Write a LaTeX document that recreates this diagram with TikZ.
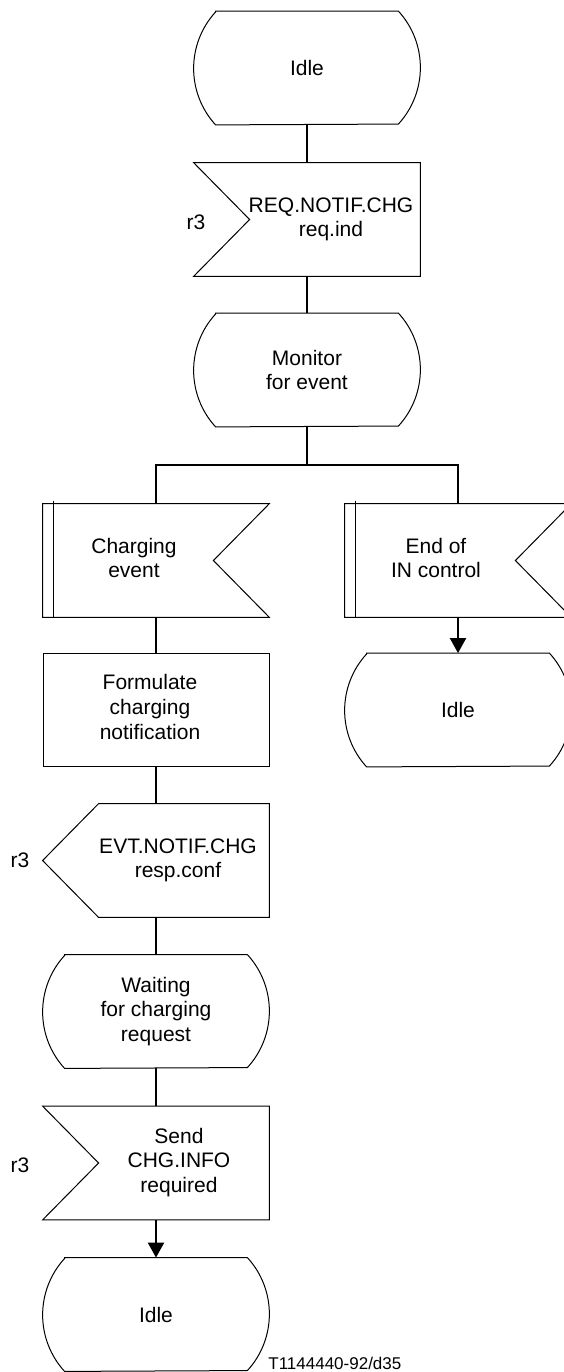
\documentclass[tikz,border=0pt]{standalone}
\usepackage{fontspec}
\setmainfont{Liberation Sans}
\usepackage{tikz}
\usetikzlibrary{arrows.meta}
\newcommand{\sdlfont}{\fontsize{10.5}{12.3}\selectfont}
\newcommand{\tagfont}{\fontsize{8.5}{10}\selectfont}
% text pushed right / left inside a symbol
\newcommand{\padl}[2]{\begin{tabular}{@{\hspace{#1}}c@{}}#2\end{tabular}}
\newcommand{\padr}[2]{\begin{tabular}{@{}c@{\hspace{#1}}}#2\end{tabular}}
\tikzset{
  sdlline/.style  = {line width=0.5pt},
  sdlbase/.style  = {minimum width=113pt, minimum height=56.5pt, inner sep=0pt,
                     align=center, font=\sdlfont},
  statesym/.style = {sdlbase, append after command={\pgfextra{
      \draw[sdlline] ([xshift=11pt]\tikzlastnode.north west)
        -- ([xshift=-11pt]\tikzlastnode.north east)
        arc[start angle=42.5, end angle=-42.5, radius=41.8pt]
        -- ([xshift=11pt]\tikzlastnode.south west)
        arc[start angle=222.5, end angle=137.5, radius=41.8pt] -- cycle;}}},
  inputsym/.style = {sdlbase, append after command={\pgfextra{
      \draw[sdlline] (\tikzlastnode.north west) -- (\tikzlastnode.north east)
        -- (\tikzlastnode.south east) -- (\tikzlastnode.south west)
        -- ([xshift=28pt]\tikzlastnode.west) -- cycle;}}},
  outputsym/.style = {sdlbase, append after command={\pgfextra{
      \draw[sdlline] ([xshift=28pt]\tikzlastnode.north west) -- (\tikzlastnode.north east)
        -- (\tikzlastnode.south east) -- ([xshift=28pt]\tikzlastnode.south west)
        -- (\tikzlastnode.west) -- cycle;}}},
  intinput/.style = {sdlbase, append after command={\pgfextra{
      \draw[sdlline] (\tikzlastnode.north west) -- (\tikzlastnode.north east)
        -- ([xshift=-28pt]\tikzlastnode.east) -- (\tikzlastnode.south east)
        -- (\tikzlastnode.south west) -- cycle;
      \draw[sdlline] ([xshift=5.5pt,yshift=1.5pt]\tikzlastnode.north west)
        -- ([xshift=5.5pt]\tikzlastnode.south west);}}},
  tasksym/.style  = {sdlbase, draw, sdlline},
  flow/.style     = {line width=1pt},
  flowarr/.style  = {flow, -{Triangle[length=7.5pt,width=8pt]}},
  chanlbl/.style  = {font=\sdlfont, inner sep=0pt}
}

\begin{document}
\begin{tikzpicture}[x=0.5pt, y=0.5pt]
  \useasboundingbox (0,0) rectangle (563,-1372);
  % Main column
  \node[statesym] (idleA) at (307,-68)    {Idle};
  \node[inputsym] (req)   at (307,-219.5) {\padl{24pt}{REQ.NOTIF.CHG\\req.ind}};
  \node[statesym] (mon)   at (307,-370)   {Monitor\\for event};
  % Branches
  \node[intinput] (chg)   at (156,-560.5) {\padr{22pt}{Charging\\event}};
  \node[intinput] (endin) at (458,-560.5) {\padr{22pt}{End of\\IN control}};
  \node[statesym] (idleB) at (458,-710)   {Idle};
  \node[tasksym]  (form)  at (156,-709.5) {\padr{6pt}{Formulate\\charging\\notification}};
  \node[outputsym] (evt)  at (156,-860.5) {\padl{22pt}{EVT.NOTIF.CHG\\resp.conf}};
  \node[statesym] (wait)  at (156,-1011.5) {Waiting\\for charging\\request};
  \node[inputsym] (send)  at (156,-1163)  {\padl{23pt}{Send\\CHG.INFO\\required}};
  \node[statesym] (idleC) at (156,-1314.5) {Idle};
  % Channel labels
  \node[chanlbl] (rA) at (196,-222)  {r3};
  \node[chanlbl] (rB) at (20,-860)   {r3};
  \node[chanlbl] (rC) at (20,-1165)  {r3};
  % Figure tag
  \node[font=\tagfont, inner sep=0pt, anchor=base west] (tag) at (268,-1369) {T1144440-92/d35};
  % Connectors
  \coordinate (fork) at (307,-465);
  \draw[flow] (idleA.south) -- (req.north);
  \draw[flow] (req.south) -- (mon.north);
  \draw[flow] (mon.south) -- (fork);
  \draw[flow] (chg.north) |- (fork) -| (endin.north);
  \draw[flowarr] (endin.south) -- (idleB.north);
  \draw[flow] (chg.south) -- (form.north);
  \draw[flow] (form.south) -- (evt.north);
  \draw[flow] (evt.south) -- (wait.north);
  \draw[flow] (wait.south) -- (send.north);
  \draw[flowarr] (send.south) -- (idleC.north);
\end{tikzpicture}
\end{document}
